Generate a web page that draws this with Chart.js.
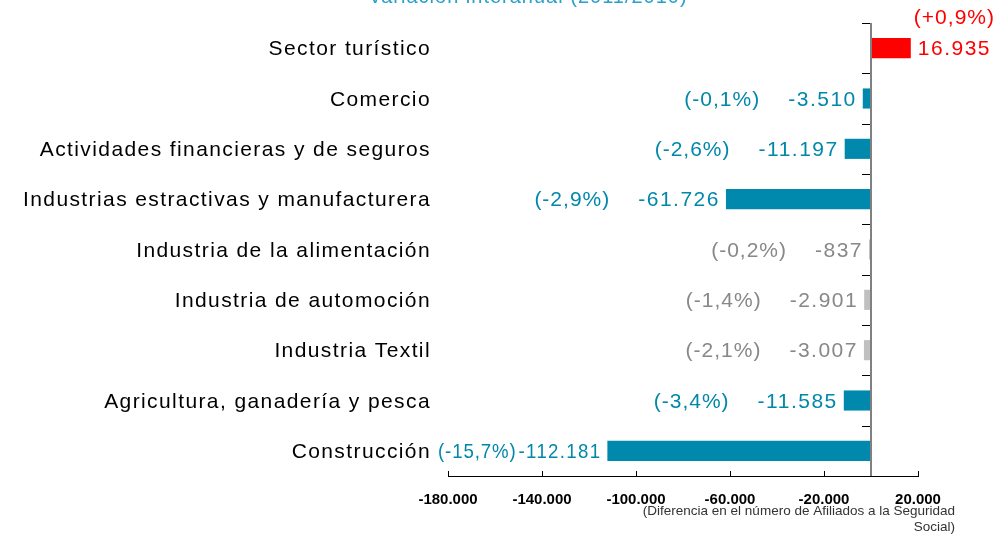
<!DOCTYPE html>
<html>
<head>
<meta charset="utf-8">
<script src="https://cdn.jsdelivr.net/npm/chart.js@4"></script>
<style>
  html, body { margin: 0; padding: 0; background: #fff; }
  #wrap { position: relative; width: 1008px; height: 534px; }
</style>
</head>
<body>
<div id="wrap"><canvas id="myChart"></canvas></div>
<script>
const categories = [
    "Sector turístico",
    "Comercio",
    "Actividades financieras y de seguros",
    "Industrias estractivas y manufacturera",
    "Industria de la alimentación",
    "Industria de automoción",
    "Industria Textil",
    "Agricultura, ganadería y pesca",
    "Construcción"
];
const values = [16935, -3510, -11197, -61726, -837, -2901, -3007, -11585, -112181];
const percents = [0.9, -0.1, -2.6, -2.9, -0.2, -1.4, -2.1, -3.4, -15.7];
// rows drawn in grey in the original
const mutedRows = ["Industria de la alimentación", "Industria de automoción", "Industria Textil"];
const xTicks = [-180000, -140000, -100000, -60000, -20000, 20000];
const titleText = "Variación interanual (2011/2010)";
const noteLines = ["(Diferencia en el número de Afiliados a la Seguridad", "Social)"];

const BLUE = "#0089ad";
const BLUE_TXT = "#0088aa";
const GREY = "#c0c0c0";
const GREY_TXT = "#888888";
const RED = "#ff0000";
const FONT = '"Liberation Sans", Arial, sans-serif';

function fmt(v) {
    const s = String(Math.abs(v)).replace(/\B(?=(\d{3})+(?!\d))/g, ".");
    return (v < 0 ? "-" : "") + s;
}
function fmtPct(p) {
    return "(" + (p > 0 ? "+" : "") + p.toFixed(1).replace(".", ",") + "%)";
}
function barColor(i) {
    if (values[i] > 0) return RED;
    return mutedRows.includes(categories[i]) ? GREY : BLUE;
}
function textColor(i) {
    if (values[i] > 0) return RED;
    return mutedRows.includes(categories[i]) ? GREY_TXT : BLUE_TXT;
}

const decorations = {
    id: "decorations",
    afterDatasetsDraw(chart) {
        const ctx = chart.ctx;
        const area = chart.chartArea;
        const x = chart.scales.x;
        const y = chart.scales.y;
        const zeroX = x.getPixelForValue(0);

        ctx.save();
        // vertical axis at zero
        ctx.strokeStyle = "#808080";
        ctx.lineWidth = 2;
        ctx.beginPath();
        ctx.moveTo(zeroX, area.top);
        ctx.lineTo(zeroX, area.bottom);
        ctx.stroke();

        // category boundary ticks
        ctx.strokeStyle = "#000";
        ctx.lineWidth = 1;
        for (let i = 0; i <= categories.length; i++) {
            const py = Math.round(y.getPixelForValue(i - 0.5)) + 0.5;
            ctx.beginPath();
            ctx.moveTo(zeroX - 9, py);
            ctx.lineTo(zeroX - 1, py);
            ctx.stroke();
        }
        // x ticks pointing up
        xTicks.forEach(t => {
            const px = Math.round(x.getPixelForValue(t)) + 0.5;
            ctx.beginPath();
            ctx.moveTo(px, area.bottom);
            ctx.lineTo(px, area.bottom - 5);
            ctx.stroke();
        });

        // category names
        ctx.font = "21px " + FONT;
        ctx.letterSpacing = "1.4px";
        ctx.fillStyle = "#000";
        ctx.textAlign = "right";
        ctx.textBaseline = "middle";
        categories.forEach((c, i) => {
            ctx.fillText(c, area.left - 17, y.getPixelForValue(i) + 1.5);
        });

        // value and percent labels
        const bars = chart.getDatasetMeta(0).data;
        bars.forEach((bar, i) => {
            const v = values[i];
            const vt = fmt(v);
            const pt = fmtPct(percents[i]);
            ctx.fillStyle = textColor(i);
            ctx.font = "21px " + FONT;
            ctx.letterSpacing = "1.5px";
            const vw = ctx.measureText(vt).width;
            ctx.letterSpacing = "1px";
            const pw = ctx.measureText(pt).width;
            const cy = bar.y + 1.5;
            if (v > 0) {
                ctx.textAlign = "left";
                ctx.letterSpacing = "1.5px";
                ctx.fillText(vt, bar.x + 7, cy);
                ctx.textAlign = "center";
                ctx.letterSpacing = "1px";
                ctx.fillText(pt, bar.x + 7 + vw / 2, cy - 31);
            } else {
                let gap = 28;
                const right = bar.x - 6;
                const limit = area.left - 10;
                let f = 1;
                if (right - (vw + gap + pw) < limit) {
                    gap = 2;
                    f = (right - limit - gap) / (vw + pw);
                }
                ctx.textAlign = "right";
                ctx.letterSpacing = "1.5px";
                ctx.fillText(vt, right, cy, vw * f);
                ctx.letterSpacing = "1px";
                ctx.fillText(pt, right - vw * f - gap, cy, pw * f);
            }
        });

        // title (cut by the top edge, as in the original)
        ctx.letterSpacing = "1px";
        ctx.font = "20px " + FONT;
        ctx.fillStyle = "#2a9fc9";
        ctx.textAlign = "center";
        ctx.textBaseline = "alphabetic";
        ctx.fillText(titleText, 528, 3);

        // axis note
        ctx.letterSpacing = "0px";
        ctx.font = "13.5px " + FONT;
        ctx.fillStyle = "#333";
        ctx.textAlign = "right";
        ctx.textBaseline = "middle";
        ctx.fillText(noteLines[0], 955, 511);
        ctx.fillText(noteLines[1], 955, 527.5);
        ctx.restore();
    }
};

new Chart("myChart", {
    type: "bar",
    data: {
        labels: categories,
        datasets: [{
            data: values,
            backgroundColor: values.map((v, i) => barColor(i)),
            borderWidth: 0,
            barPercentage: 0.4,
            categoryPercentage: 1
        }]
    },
    options: {
        indexAxis: "y",
        responsive: true,
        maintainAspectRatio: false,
        animation: false,
        layout: { padding: { left: 448, right: 90, top: 23, bottom: 0 } },
        plugins: {
            legend: { display: false },
            tooltip: { enabled: false }
        },
        scales: {
            y: { display: false },
            x: {
                min: -180000,
                max: 20000,
                afterFit: s => { s.height = 58; },
                afterBuildTicks: s => { s.ticks = xTicks.map(v => ({ value: v })); },
                grid: { display: true, drawOnChartArea: false, drawTicks: false },
                border: { display: true, color: "#000", width: 1 },
                ticks: {
                    padding: 15,
                    color: "#000",
                    font: { family: FONT, size: 15, weight: "bold" },
                    maxRotation: 0,
                    autoSkip: false,
                    callback: v => fmt(v)
                }
            }
        }
    },
    plugins: [decorations]
});
</script>
</body>
</html>
